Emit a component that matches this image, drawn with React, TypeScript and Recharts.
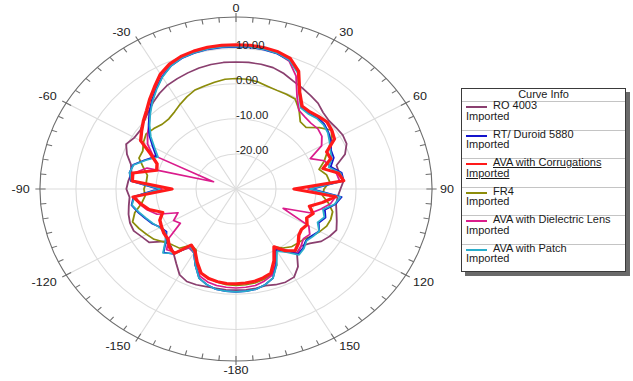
import { RadarChart, Radar, PolarGrid, PolarAngleAxis, PolarRadiusAxis } from 'recharts';

// angles in degrees, clockwise from the top (0..355)
const ANGLES = [
    0, 5, 10, 15, 20, 25, 30, 35, 40, 45, 50, 55, 60, 65, 70, 75, 80, 85,
    90, 95, 100, 105, 110, 115, 120, 125, 130, 135, 140, 145, 150, 155, 160, 165, 170, 175,
    180, 185, 190, 195, 200, 205, 210, 215, 220, 225, 230, 235, 240, 245, 250, 255, 260, 265,
    270, 275, 280, 285, 290, 295, 300, 305, 310, 315, 320, 325, 330, 335, 340, 345, 350, 355,
];

// dB values per angle
const RO4003 = [
    6.2, 6.2, 6.1, 5.8, 5.0, 3.9, 3.2, 2.5, 1.9, 0.8, 0.3, 0.5, 0.8, 0.5, -1.0, -4.0, -3.8, -3.0,
    -3.9, -4.5, -4.6, -4.0, -3.2, -2.3, -3.0, -4.0, -5.9, -7.0, -6.3, -3.0, -1.0, -0.7, -1.0, -1.5, -1.3, -1.2,
    -1.2, -1.2, -1.3, -1.2, -1.0, -0.9, -1.8, -4.0, -5.8, -7.0, -6.8, -3.5, -2.8, -1.8, -1.8, -2.2, -2.8, -3.3,
    -2.6, -3.0, -3.5, -2.8, -1.0, 0.3, -0.7, -0.8, 0.0, 1.0, 2.2, 3.3, 4.2, 4.7, 5.2, 5.7, 6.0, 6.2,
];

const DUROID_5880 = [
    10.5, 10.5, 10.3, 9.9, 9.0, 6.8, 2.0, -1.5, -1.8, -1.2, -1.2, -1.8, -2.6, -3.8, -4.0, -5.5, -3.2, -3.0,
    -11.0, -3.5, -4.8, -7.0, -6.2, -7.2, -6.0, -6.8, -7.2, -6.3, -5.8, -8.5, -10.0, -6.2, -3.0, -1.8, -1.0, -0.8,
    -0.7, -0.8, -1.0, -1.8, -3.0, -6.0, -9.0, -10.0, -5.8, -4.4, -7.2, -8.8, -8.2, -6.8, -5.8, -4.6, -3.5, -4.3,
    -10.5, -3.6, -3.0, -3.4, -5.8, -8.0, -6.0, -3.6, -1.5, 0.6, 2.8, 4.8, 6.9, 8.6, 9.6, 10.1, 10.4, 10.5,
];

const CORRUGATIONS = [
    11.1, 11.1, 10.9, 10.5, 9.6, 7.0, 1.8, -1.2, -1.3, -0.8, -0.3, -0.8, -1.6, -5.0, -4.8, -7.5, -4.0, -3.0,
    -15.5, -5.0, -8.0, -11.0, -9.5, -10.5, -9.5, -10.0, -9.5, -8.0, -7.0, -8.5, -11.0, -7.5, -4.5, -3.8, -3.3, -3.1,
    -3.0, -3.0, -3.2, -3.6, -4.5, -7.0, -9.5, -10.5, -6.0, -6.5, -7.8, -8.0, -8.5, -9.0, -10.5, -7.5, -5.8, -4.2,
    -14.0, -4.0, -3.8, -9.5, -9.0, -6.5, -2.5, -1.2, 0.2, 1.6, 3.5, 5.5, 7.8, 9.3, 10.2, 10.7, 11.0, 11.1,
];

const FR4 = [
    1.5, 1.4, 1.0, 0.3, -0.1, -0.2, -0.4, -2.5, -5.0, -5.2, -2.8, -0.8, -2.5, -4.8, -6.5, -8.5, -7.0, -6.5,
    -8.0, -8.3, -6.5, -5.0, -4.8, -5.0, -5.8, -6.7, -7.8, -8.2, -8.5, -9.5, -11.0, -6.0, -4.0, -3.3, -2.8, -2.6,
    -2.5, -2.6, -3.0, -3.7, -4.5, -6.5, -10.0, -10.5, -8.0, -7.5, -6.5, -5.0, -4.2, -3.3, -2.5, -3.8, -6.0, -7.2,
    -7.0, -7.5, -7.5, -6.0, -4.2, -4.3, -3.3, -2.6, -3.2, -3.9, -3.9, -3.2, -2.1, -1.0, 0.0, 0.4, 0.9, 1.4,
];

const DIELECTRIC_LENS = [
    10.8, 10.8, 10.5, 10.0, 8.8, 5.5, 0.5, -2.6, -3.2, -3.5, -3.3, -3.8, -5.3, -9.5, -6.5, -5.5, -4.5, -4.0,
    -12.0, -5.0, -6.0, -8.0, -10.0, -17.0, -9.0, -7.5, -8.0, -7.0, -6.0, -9.0, -10.0, -6.5, -3.8, -2.8, -2.1, -1.9,
    -1.8, -1.9, -2.1, -2.6, -3.6, -6.0, -9.0, -9.5, -6.5, -5.5, -8.0, -13.0, -12.0, -14.0, -9.0, -7.0, -5.5, -4.8,
    -11.5, -4.0, -4.0, -7.0, -24.0, -7.0, -4.5, -3.0, -1.6, 0.5, 2.6, 4.8, 7.0, 8.8, 9.8, 10.4, 10.7, 10.8,
];

const PATCH = [
    10.6, 10.6, 10.4, 10.0, 9.0, 6.5, 1.5, -1.8, -2.0, -1.5, -1.5, -2.0, -3.0, -4.0, -4.5, -6.0, -3.5, -3.0,
    -11.5, -3.8, -5.0, -7.5, -6.5, -7.5, -6.0, -6.5, -7.0, -6.0, -5.5, -8.0, -9.5, -6.0, -3.0, -1.8, -1.0, -0.8,
    -0.7, -0.8, -1.0, -1.8, -3.0, -6.0, -9.0, -10.0, -6.0, -4.2, -7.0, -8.5, -8.0, -7.0, -6.0, -4.8, -3.6, -4.5,
    -11.0, -3.8, -3.0, -3.5, -6.0, -8.5, -6.5, -4.0, -1.8, 0.3, 2.5, 4.6, 6.8, 8.6, 9.7, 10.2, 10.5, 10.6,
];

const RADIUS_TICKS = [-30, -20, -10, 0, 10];
const GRID_ANGLES = [0, 30, 60, 90, 120, 150, 180, 210, 240, 270, 300, 330];

const SERIES = [
    { key: 'ro4003', name: 'RO 4003', color: '#8a3f6f', width: 1.6, values: RO4003 },
    { key: 'duroid', name: 'RT/ Duroid 5880', color: '#1414cc', width: 1.6, values: DUROID_5880 },
    { key: 'corr', name: 'AVA with Corrugations', color: '#ff1a1a', width: 3, values: CORRUGATIONS },
    { key: 'fr4', name: 'FR4', color: '#8c8c0a', width: 1.6, values: FR4 },
    { key: 'lens', name: 'AVA with Dielectric Lens', color: '#da1c8c', width: 1.6, values: DIELECTRIC_LENS },
    { key: 'patch', name: 'AVA with Patch', color: '#2aadcb', width: 1.6, values: PATCH },
];

const DRAW_ORDER = ['ro4003', 'fr4', 'lens', 'duroid', 'patch', 'corr'];

const CX = 236;
const CY = 189;
const OUTER_R = 172;
const STRETCH_X = 1.14;
const FONT = '"Liberation Sans", Arial, sans-serif';

const rows = ANGLES.map((angle, i) => {
    const row: Record<string, number> = { angle };
    SERIES.forEach((s) => {
        row[s.key] = s.values[i];
    });
    return row;
});

function AngleTick(props: any) {
    const { payload } = props;
    const deg = Number(payload.value);
    const rad = (payload.coordinate * Math.PI) / 180;
    const at = (r: number) => [CX + r * Math.cos(rad), CY - r * Math.sin(rad)];
    const major = deg % 30 === 0;
    const [x1, y1] = at(major ? OUTER_R + 4 : OUTER_R);
    const [x2, y2] = at(OUTER_R - 5);
    const [tx, ty] = at(OUTER_R + 5);
    const label = deg <= 150 ? deg : deg - 360;
    const sx = Math.cos(rad);
    const sy = Math.sin(rad);
    // left side labels end at the point, right side ones start there
    const anchor = sx > 0.1 ? 'start' : sx < -0.1 ? 'end' : 'middle';
    const dx = sx > 0.1 ? 2 : sx < -0.1 ? -4 : 0;
    const baseline = sy > 0.1 ? 'auto' : sy < -0.1 ? 'hanging' : 'central';
    return (
        <g>
            <line x1={x1} y1={y1} x2={x2} y2={y2} stroke="#6e6e6e" strokeWidth={1} />
            {major && (
                <text
                    x={tx + dx}
                    y={ty}
                    textAnchor={anchor}
                    dominantBaseline={baseline}
                    fontSize={11}
                    fontFamily={FONT}
                    fill="#222"
                >
                    {label}
                </text>
            )}
        </g>
    );
}

export default function App() {
    return (
        <div
            style={{
                position: 'fixed',
                left: 0,
                top: 0,
                width: 633,
                height: 381,
                background: '#fff',
                overflow: 'hidden',
                fontFamily: FONT,
            }}
        >
            <div
                style={{
                    position: 'absolute',
                    left: 0,
                    top: 0,
                    transform: `scaleX(${STRETCH_X})`,
                    transformOrigin: `${CX}px 0px`,
                }}
            >
                <RadarChart
                    width={460}
                    height={381}
                    cx={CX}
                    cy={CY}
                    outerRadius={OUTER_R}
                    data={rows}
                    startAngle={90}
                    endAngle={-270}
                    margin={{ top: 0, right: 0, bottom: 0, left: 0 }}
                >
                    <PolarGrid gridType="circle" stroke="#dcdcdc" polarAngles={GRID_ANGLES} />
                    <PolarAngleAxis
                        dataKey="angle"
                        axisLineType="circle"
                        axisLine={{ stroke: '#6e6e6e', strokeWidth: 1 }}
                        tickLine={false}
                        tick={<AngleTick />}
                    />
                    <PolarRadiusAxis
                        angle={90}
                        type="number"
                        domain={[-30, 18.5]}
                        ticks={RADIUS_TICKS as any}
                        allowDataOverflow
                        axisLine={false}
                        tickLine={false}
                        tick={{ fontSize: 10, fill: '#222', fontFamily: FONT }}
                        tickFormatter={(v: number) => (v === -30 ? '' : v.toFixed(2))}
                    />
                    {DRAW_ORDER.map((k) => {
                        const s = SERIES.find((x) => x.key === k)!;
                        return (
                            <Radar
                                key={s.key}
                                name={s.name}
                                dataKey={s.key}
                                stroke={s.color}
                                strokeWidth={s.width}
                                strokeLinejoin="round"
                                fill="none"
                                fillOpacity={0}
                                dot={false}
                                isAnimationActive={false}
                            />
                        );
                    })}
                </RadarChart>
            </div>

            {/* Curve Info legend */}
            <div
                style={{
                    position: 'absolute',
                    left: 461,
                    top: 88,
                    width: 165,
                    height: 184,
                    border: '1px solid #3a3a3a',
                    boxSizing: 'border-box',
                    background: '#fff',
                    boxShadow: '4px 4px 0 #6a6a6a',
                    fontSize: 11,
                    color: '#1a1a1a',
                }}
            >
                <div style={{ height: 12, lineHeight: '11px', textAlign: 'center' }}>Curve Info</div>
                {SERIES.map((s) => {
                    const selected = s.key === 'corr';
                    return (
                        <div
                            key={s.key}
                            style={{
                                position: 'relative',
                                height: 28.6,
                                borderTop: '1px solid #c4c4c4',
                                boxSizing: 'border-box',
                            }}
                        >
                            <div
                                style={{
                                    position: 'absolute',
                                    left: 4,
                                    top: 4,
                                    width: 21,
                                    height: 2,
                                    background: s.color,
                                }}
                            />
                            <div
                                style={{
                                    position: 'absolute',
                                    left: 31,
                                    top: -1,
                                    lineHeight: '9px',
                                    whiteSpace: 'nowrap',
                                    textDecoration: selected ? 'underline' : 'none',
                                }}
                            >
                                {s.name}
                            </div>
                            <div
                                style={{
                                    position: 'absolute',
                                    left: 4,
                                    top: 9.5,
                                    lineHeight: '9px',
                                    textDecoration: selected ? 'underline' : 'none',
                                }}
                            >
                                Imported
                            </div>
                        </div>
                    );
                })}
            </div>
        </div>
    );
}
